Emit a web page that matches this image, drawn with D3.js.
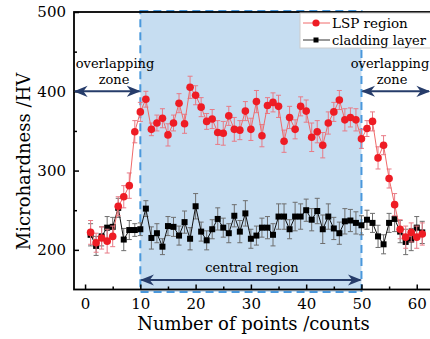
<!DOCTYPE html>
<html><head><meta charset="utf-8">
<script src="https://cdn.jsdelivr.net/npm/d3@7"></script>
<style>body{margin:0;background:#fff}svg{display:block}</style>
</head><body>
<svg id="c" width="430" height="339"></svg>
<script>
const points = d3.range(1, 62);
const lspValues = [222,209,215,211,217,255,267,281,349,374,390,352,360,366,345,360,385,359,405,395,380,362,365,348,347,369,352,351,375,352,387,344,382,386,381,337,367,352,381,375,342,349,332,360,374,389,364,367,364,340,353,362,316,332,290,257,226,216,222,216,220];
const lspErr = [15,12,14,15,13,12,14,16,14,12,10,8,10,12,14,10,12,12,14,12,12,10,12,15,15,12,15,12,12,14,14,14,10,12,14,14,14,12,12,14,18,14,16,14,12,12,14,12,14,12,10,12,14,12,12,14,12,14,12,14,14];
const cladValues = [219,205,217,228,229,253,213,225,225,226,252,215,221,204,230,229,218,235,214,255,223,212,226,239,228,221,243,223,246,214,218,228,228,219,242,242,226,242,242,250,238,249,226,242,227,221,236,237,234,231,238,234,217,207,234,239,223,210,213,228,222];
const cladErr = [14,12,12,14,12,12,14,12,8,8,10,14,12,10,12,12,12,14,14,16,12,12,12,14,12,12,14,14,16,12,12,12,14,14,16,16,12,18,16,14,14,16,18,16,14,14,16,14,14,12,12,12,14,12,12,16,14,16,14,14,14];
const xTicks = [0,10,20,30,40,50,60];
const yTicks = [200,300,400,500];

const svg = d3.select('#c');
const L=74, R=430, T=12, B=289.5;
const x = d3.scaleLinear().domain([-2,62.4]).range([L,R]);
const y = d3.scaleLinear().domain([150,500]).range([B,T]);
const serif = '"DejaVu Serif", serif';

// central shaded region
svg.append('rect').attr('x',x(10)).attr('y',T-1).attr('width',x(50)-x(10)).attr('height',B-T+3.5)
  .attr('fill','#c6ddf1').attr('stroke','#4a98dc').attr('stroke-width',2).attr('stroke-dasharray','8,5');

// series
function drawSeries(vals, errs, lineColor, barColor, markerFn){
  const g = svg.append('g');
  g.selectAll('line.e').data(points).enter().append('line')
    .attr('x1',d=>x(d)).attr('x2',d=>x(d))
    .attr('y1',(d,i)=>y(vals[i]-errs[i])).attr('y2',(d,i)=>y(vals[i]+errs[i]))
    .attr('stroke',barColor).attr('stroke-width',1);
  [-1,1].forEach(s=>{
    g.selectAll('line.c'+s).data(points).enter().append('line')
      .attr('x1',d=>x(d)-2.5).attr('x2',d=>x(d)+2.5)
      .attr('y1',(d,i)=>y(vals[i]+s*errs[i])).attr('y2',(d,i)=>y(vals[i]+s*errs[i]))
      .attr('stroke',barColor).attr('stroke-width',1);
  });
  g.append('path').datum(points).attr('fill','none').attr('stroke',lineColor).attr('stroke-width',1)
    .attr('d',d3.line().x(d=>x(d)).y((d,i)=>y(vals[i])));
  markerFn(g, vals);
}
drawSeries(cladValues, cladErr, '#111', '#6e6e6e', (g,vals)=>{
  g.selectAll('rect.m').data(points).enter().append('rect')
    .attr('x',d=>x(d)-3).attr('y',(d,i)=>y(vals[i])-3).attr('width',6).attr('height',6).attr('fill','#000');
});
drawSeries(lspValues, lspErr, '#f06a6a', '#e87a86', (g,vals)=>{
  g.selectAll('circle.m').data(points).enter().append('circle')
    .attr('cx',d=>x(d)).attr('cy',(d,i)=>y(vals[i])).attr('r',3.8).attr('fill','#ee1c24');
});

// axes frame
svg.append('rect').attr('x',L).attr('y',T).attr('width',R-L+2).attr('height',B-T)
  .attr('fill','none').attr('stroke','#000').attr('stroke-width',1.8);
const yAxis = d3.axisLeft(y).tickValues(yTicks).tickSize(-5).tickPadding(8).tickFormat(d3.format('d'));
const ya = svg.append('g').attr('transform',`translate(${L},0)`).call(yAxis);
ya.select('.domain').remove();
ya.selectAll('line').attr('stroke-width',1.5);
ya.selectAll('text').attr('font-family',serif).attr('font-size',15).attr('fill','#000');
svg.append('g').attr('transform',`translate(${L},0)`).call(d3.axisLeft(y).tickValues([250,350,450]).tickSize(-3).tickFormat(''))
  .call(g=>g.select('.domain').remove()).selectAll('line').attr('stroke-width',1.5);
const xAxis = d3.axisBottom(x).tickValues(xTicks).tickSize(-5).tickPadding(9);
const xa = svg.append('g').attr('transform',`translate(0,${B})`).call(xAxis);
xa.select('.domain').remove();
xa.selectAll('line').attr('stroke-width',1.5);
xa.selectAll('text').attr('font-family',serif).attr('font-size',15).attr('fill','#000');
svg.append('g').attr('transform',`translate(0,${B})`).call(d3.axisBottom(x).tickValues([5,15,25,35,45,55]).tickSize(-3).tickFormat(''))
  .call(g=>g.select('.domain').remove()).selectAll('line').attr('stroke-width',1.5);

// axis titles
svg.append('text').attr('x',253.5).attr('y',330).attr('text-anchor','middle')
  .attr('font-family',serif).attr('font-size',18).text('Number of points /counts');
svg.append('text').attr('transform',`translate(30,161.5) rotate(-90)`).attr('text-anchor','middle')
  .attr('font-family',serif).attr('font-size',18).text('Microhardness /HV');

// arrows
const navy = '#263c6a';
const defs = svg.append('defs');
defs.append('marker').attr('id','ah').attr('viewBox','0 0 10 10').attr('refX',9).attr('refY',5)
  .attr('markerWidth',7).attr('markerHeight',7).attr('orient','auto-start-reverse')
  .append('path').attr('d','M0,1 L10,5 L0,9 L3,5 Z').attr('fill',navy);
function arrow(x1,x2,yy){
  svg.append('line').attr('x1',x1).attr('x2',x2).attr('y1',yy).attr('y2',yy)
    .attr('stroke',navy).attr('stroke-width',2).attr('marker-start','url(#ah)').attr('marker-end','url(#ah)');
}
arrow(L+1, x(10)-1, y(400));
arrow(x(50)+1, R-1, y(400));
arrow(x(10)+1, x(50)-1, 280);
function label(txt, cx, cy){
  svg.append('text').attr('x',cx).attr('y',cy).attr('text-anchor','middle')
    .attr('font-family',serif).attr('font-size',13).text(txt);
}
label('overlapping', 115, 68); label('zone', 114, 84);
label('overlapping', 390, 68); label('zone', 392, 84);
label('central region', 252, 272);

// legend
const lg = svg.append('g');
lg.append('rect').attr('x',300).attr('y',13).attr('width',140).attr('height',35).attr('fill','#fff').attr('stroke','#ccc');
lg.append('line').attr('x1',303).attr('x2',330).attr('y1',23).attr('y2',23).attr('stroke','#f06a6a');
lg.append('circle').attr('cx',316).attr('cy',23).attr('r',3.6).attr('fill','#ee1c24');
lg.append('text').attr('x',332).attr('y',27.5).attr('font-family',serif).attr('font-size',13.5).text('LSP region');
lg.append('line').attr('x1',303).attr('x2',330).attr('y1',40).attr('y2',40).attr('stroke','#333');
lg.append('rect').attr('x',313.5).attr('y',37.5).attr('width',5).attr('height',5).attr('fill','#000');
lg.append('text').attr('x',332).attr('y',44.5).attr('font-family',serif).attr('font-size',13).text('cladding layer');
</script>
</body></html>
